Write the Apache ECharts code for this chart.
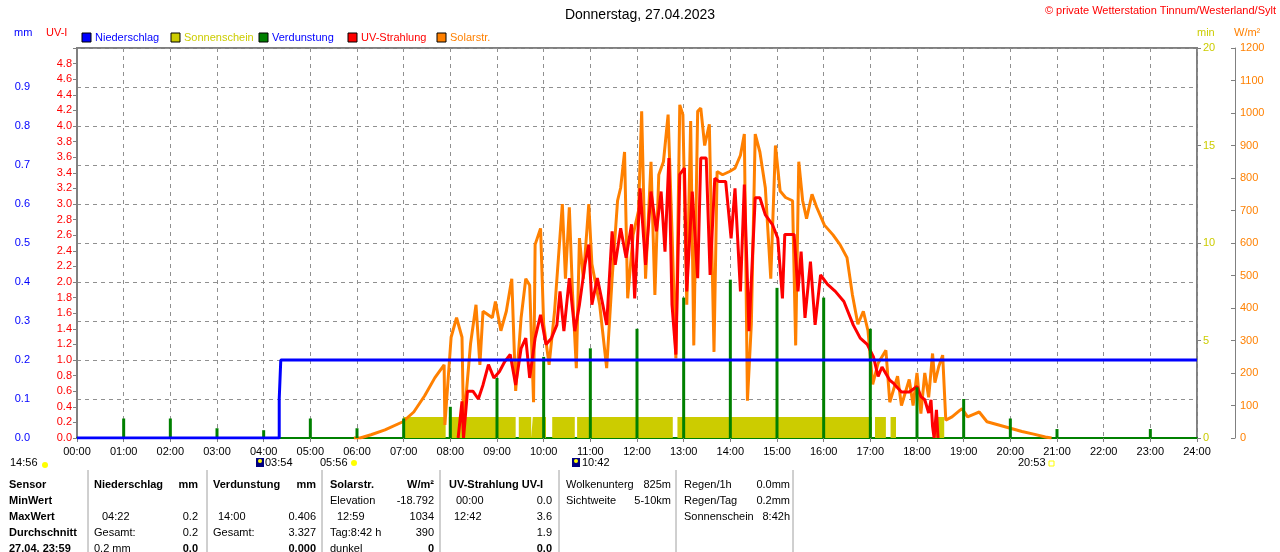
<!DOCTYPE html>
<html><head><meta charset="utf-8">
<script src="https://cdn.jsdelivr.net/npm/echarts@6/dist/echarts.min.js"></script>
<style>html,body{margin:0;padding:0;background:#fff}#c{width:1280px;height:552px}</style>
</head><body><div id="c"></div>
<script>
const xTickLabels = ["00:00","01:00","02:00","03:00","04:00","05:00","06:00","07:00","08:00","09:00","10:00","11:00","12:00","13:00","14:00","15:00","16:00","17:00","18:00","19:00","20:00","21:00","22:00","23:00","24:00"];
const solarTimes = ["05:56","06:04","06:18","06:36","06:59","07:13","07:27","07:40","07:52","07:53","08:01","08:08","08:15","08:17","08:26","08:33","08:38","08:42","08:54","08:58","09:05","09:12","09:19","09:24","09:31","09:37","09:42","09:47","09:49","09:56","10:00","10:07","10:14","10:24","10:28","10:33","10:37","10:42","10:46","10:51","10:58","11:02","11:12","11:21","11:28","11:35","11:39","11:44","11:48","11:55","12:02","12:06","12:11","12:18","12:23","12:28","12:34","12:40","12:45","12:50","12:55","12:59","13:04","13:09","13:13","13:18","13:22","13:27","13:33","13:39","13:43","13:50","13:59","14:06","14:13","14:18","14:22","14:27","14:32","14:38","14:45","14:52","14:58","15:04","15:11","15:20","15:24","15:28","15:33","15:38","15:45","15:51","16:01","16:12","16:21","16:30","16:37","16:44","16:51","16:57","17:03","17:10","17:20","17:25","17:35","17:40","17:50","17:55","18:00","18:05","18:10","18:15","18:20","18:23","18:28","18:33","18:37","18:45","18:55","18:58","19:05","19:15","19:20","19:30","19:45","20:00","20:15","20:30","20:45","20:53"];
const solarValues = [0,0,10,25,50,80,130,185,225,40,310,370,310,40,290,410,225,390,370,420,330,390,490,145,370,490,470,110,595,645,350,225,390,720,490,710,450,215,615,490,720,535,410,215,490,730,770,880,430,625,700,1005,490,850,440,810,850,995,635,245,1025,995,410,975,285,1005,1015,900,965,265,820,810,820,830,870,935,115,350,935,880,770,490,900,760,740,730,285,850,730,675,750,710,655,625,595,555,440,350,390,330,165,230,270,110,190,100,180,100,200,75,200,125,260,170,220,255,55,65,85,90,65,75,80,50,40,30,20,12,3,0];
const uvTimes = ["08:10","08:15","08:17","08:22","08:29","08:36","08:42","08:49","08:56","09:03","09:10","09:17","09:24","09:31","09:37","09:42","09:49","09:56","10:03","10:10","10:17","10:21","10:26","10:33","10:40","10:46","10:53","10:58","11:02","11:09","11:16","11:21","11:28","11:32","11:39","11:46","11:53","11:57","12:04","12:11","12:18","12:25","12:31","12:36","12:41","12:45","12:50","12:55","13:01","13:04","13:11","13:18","13:22","13:29","13:34","13:40","13:45","13:54","14:01","14:06","14:13","14:18","14:24","14:32","14:38","14:45","14:54","15:01","15:07","15:10","15:22","15:27","15:31","15:36","15:43","15:49","15:56","16:05","16:15","16:26","16:38","16:47","16:56","17:04","17:10","17:15","17:25","17:30","17:40","17:50","18:00","18:05","18:10","18:15","18:18","18:20","18:22","18:25","18:27"];
const uvValues = [0,0.47,0,0.6,0.6,0.5,0.68,0.94,0.77,0.85,0.98,1.07,0.68,1.15,1.28,0.77,1.28,1.58,1.2,1.28,1.45,1.88,1.37,2.05,1.37,1.71,2.22,2.48,1.71,2.05,1.71,1.45,2.65,2.22,2.69,2.31,2.74,1.79,3.2,2.22,3.16,2.65,3.16,2.39,3.59,1.71,1.07,3.38,3.46,1.88,3.16,2.05,3.59,3.59,2.09,3.33,3.29,3.29,2.56,3.2,1.88,3.25,1.37,3.08,3.08,2.86,2.74,2.56,1.79,2.61,2.61,1.88,2.39,1.54,2.26,1.45,2.09,1.97,1.88,1.75,1.45,1.28,1.2,1.04,0.79,0.91,0.74,0.7,0.59,0.59,0.66,0.53,0.49,0.32,0.49,0.15,0,0.36,0];
const evapTimes = ["01:00","02:00","03:00","04:00","05:00","06:00","07:00","08:00","09:00","10:00","11:00","12:00","13:00","14:00","15:00","16:00","17:00","18:00","19:00","20:00","21:00","23:00"];
const evapValues = [0.05,0.05,0.025,0.02,0.05,0.025,0.05,0.08,0.154,0.208,0.23,0.28,0.36,0.406,0.385,0.36,0.28,0.13,0.10,0.05,0.023,0.023];
const rainTimes = ["00:00","04:20","04:20","04:22","04:22","24:00"];
const rainValues = [0,0,0.1,0.1,0.2,0.2];
const sunStart = ["07:00","07:58","09:28","09:46","10:11","10:43","12:52","17:06","17:26","18:23"];
const sunEnd   = ["07:54","09:24","09:44","10:03","10:40","12:46","17:02","17:20","17:33","18:35"];
const sunLevel = 1.08;

const toMin = s => { const [h,m] = s.split(':').map(Number); return h*60+m; };
const pairs = (t,v) => t.map((s,i)=>[toMin(s), v[i]]);
const sunData = [];
sunStart.forEach((s,i)=>{ const a=toMin(s), b=toMin(sunEnd[i]); sunData.push([a,0],[a,sunLevel],[b,sunLevel],[b,0]); });

const F = 'Liberation Sans, Arial, sans-serif';
const ch = echarts.init(document.getElementById('c'));
const T = (x,y,text,color,opts={}) => ({type:'text',x,y,style:{text,fill:color||'#000',font:(opts.bold?'bold ':'')+'11px '+F,textAlign:opts.align||'left',textVerticalAlign:'middle'}});
const g = [];
g.push(T(640,15,'Donnerstag, 27.04.2023','#000',{align:'center'}));
g[g.length-1].style.font='14px '+F;
g.push(T(1276,11,'© private Wetterstation Tinnum/Westerland/Sylt','#ff0000',{align:'right'}));
g.push(T(14,33,'mm','#0000ff'), T(46,33,'UV-I','#ff0000'), T(1197,33,'min','#cccc00'), T(1234,33,'W/m²','#ff8000'));
const leg = [['Niederschlag','#0000ff','#0000ff',82],['Sonnenschein','#cccc00','#cccc00',171],['Verdunstung','#008000','#0000ff',259],['UV-Strahlung','#ff0000','#ff0000',348],['Solarstr.','#ff8000','#ff8000',437]];
leg.forEach(l=>{ g.push({type:'rect',shape:{x:l[3],y:33,width:9,height:9},style:{fill:l[1],stroke:'#000',lineWidth:1}}); g.push(T(l[3]+13,38,l[0],l[2])); });
g.push(T(10,463,'14:56'), {type:'circle',shape:{cx:45,cy:465,r:3},style:{fill:'#ffff00'}});
g.push({type:'rect',shape:{x:256,y:458,width:8,height:9},style:{fill:'#000080'}}, {type:'circle',shape:{cx:260,cy:461,r:2},style:{fill:'#ffff00'}}, T(265,463,'03:54'));
g.push(T(320,463,'05:56'), {type:'circle',shape:{cx:354,cy:463,r:3},style:{fill:'#ffff00'}});
g.push({type:'rect',shape:{x:572,y:458,width:8,height:9},style:{fill:'#000080'}}, {type:'circle',shape:{cx:576,cy:461,r:2},style:{fill:'#ffff00'}}, T(582,463,'10:42'));
g.push(T(1018,463,'20:53'), {type:'rect',shape:{x:1049,y:461,width:5,height:5},style:{fill:'#fff',stroke:'#ffff00'}});
[88,207,322,440,559,676,793].forEach(x=>g.push({type:'line',shape:{x1:x,y1:470,x2:x,y2:552},style:{stroke:'#a0a0a0',lineWidth:1}}));
const R=[485,501,517,533,549];
[['Sensor',0],['MinWert',1],['MaxWert',2],['Durchschnitt',3],['27.04. 23:59',4]].forEach(r=>g.push(T(9,R[r[1]],r[0],'#000',{bold:true})));
const cells = [
 [94,0,'Niederschlag',1,'l'],[198,0,'mm',1,'r'],[213,0,'Verdunstung',1,'l'],[316,0,'mm',1,'r'],[330,0,'Solarstr.',1,'l'],[434,0,'W/m²',1,'r'],[449,0,'UV-Strahlung UV-I',1,'l'],
 [566,0,'Wolkenunterg',0,'l'],[671,0,'825m',0,'r'],[684,0,'Regen/1h',0,'l'],[790,0,'0.0mm',0,'r'],
 [330,1,'Elevation',0,'l'],[434,1,'-18.792',0,'r'],[456,1,'00:00',0,'l'],[552,1,'0.0',0,'r'],[566,1,'Sichtweite',0,'l'],[671,1,'5-10km',0,'r'],[684,1,'Regen/Tag',0,'l'],[790,1,'0.2mm',0,'r'],
 [102,2,'04:22',0,'l'],[198,2,'0.2',0,'r'],[218,2,'14:00',0,'l'],[316,2,'0.406',0,'r'],[337,2,'12:59',0,'l'],[434,2,'1034',0,'r'],[454,2,'12:42',0,'l'],[552,2,'3.6',0,'r'],[684,2,'Sonnenschein',0,'l'],[790,2,'8:42h',0,'r'],
 [94,3,'Gesamt:',0,'l'],[198,3,'0.2',0,'r'],[213,3,'Gesamt:',0,'l'],[316,3,'3.327',0,'r'],[330,3,'Tag:8:42 h',0,'l'],[434,3,'390',0,'r'],[552,3,'1.9',0,'r'],
 [94,4,'0.2 mm',0,'l'],[198,4,'0.0',1,'r'],[316,4,'0.000',1,'r'],[330,4,'dunkel',0,'l'],[434,4,'0',1,'r'],[552,4,'0.0',1,'r']];
cells.forEach(c=>g.push(T(c[0],R[c[1]],c[2],'#000',{bold:!!c[3],align:c[4]==='r'?'right':'left'})));

const lab = (color) => ({color, fontSize:11, fontFamily:F});
ch.setOption({
  animation:false,
  grid:{left:77,right:83,top:48,bottom:114,show:true,borderColor:'#808080',borderWidth:2},
  xAxis:{type:'value',min:0,max:1440,interval:60,
    axisLabel:Object.assign(lab('#000'),{formatter:v=>xTickLabels[v/60]}),
    axisLine:{lineStyle:{color:'#008000',width:2}},axisTick:{length:4,lineStyle:{color:'#808080'}},
    splitLine:{show:true,lineStyle:{color:'#909090',type:[4,4]}}},
  yAxis:[
    {type:'value',min:0,max:1,interval:0.1,position:'left',offset:39,
      axisLabel:Object.assign(lab('#0000ff'),{formatter:v=>v>=0.99?'':v.toFixed(1)}),
      axisLine:{show:true,lineStyle:{color:'#808080'}},axisTick:{show:false},
      splitLine:{show:true,lineStyle:{color:'#909090',type:[4,4]}}},
    {type:'value',min:0,max:5,interval:0.2,position:'left',offset:0,
      axisLabel:Object.assign(lab('#ff0000'),{formatter:v=>v>=4.99?'':v.toFixed(1),margin:5}),
      axisLine:{show:false},axisTick:{show:true,length:4,lineStyle:{color:'#808080'}},splitLine:{show:false}},
    {type:'value',min:0,max:20,interval:5,position:'right',offset:0,
      axisLabel:Object.assign(lab('#cccc00'),{margin:6}),
      axisLine:{show:false},axisTick:{show:true,length:4,lineStyle:{color:'#808080'}},splitLine:{show:false}},
    {type:'value',min:0,max:1200,interval:100,position:'right',offset:38,
      axisLabel:Object.assign(lab('#ff8000'),{margin:5,formatter:v=>String(v)}),
      axisLine:{show:true,lineStyle:{color:'#808080'}},axisTick:{show:true,inside:true,length:4,lineStyle:{color:'#808080'}},splitLine:{show:false}}
  ],
  series:[
    {type:'line',yAxisIndex:2,data:sunData,symbol:'none',lineStyle:{width:0},areaStyle:{color:'#cccc00',opacity:1},z:1},
    {type:'line',yAxisIndex:3,data:pairs(solarTimes,solarValues),symbol:'none',lineStyle:{color:'#ff8000',width:3},z:2},
    {type:'line',yAxisIndex:1,data:pairs(uvTimes,uvValues),symbol:'none',lineStyle:{color:'#ff0000',width:3},z:3},
    {type:'bar',yAxisIndex:0,data:pairs(evapTimes,evapValues),barWidth:3,itemStyle:{color:'#008000'},z:4},
    {type:'line',yAxisIndex:0,data:pairs(rainTimes,rainValues),symbol:'none',lineStyle:{color:'#0000ff',width:3},z:5}
  ],
  graphic:g
});
</script></body></html>
